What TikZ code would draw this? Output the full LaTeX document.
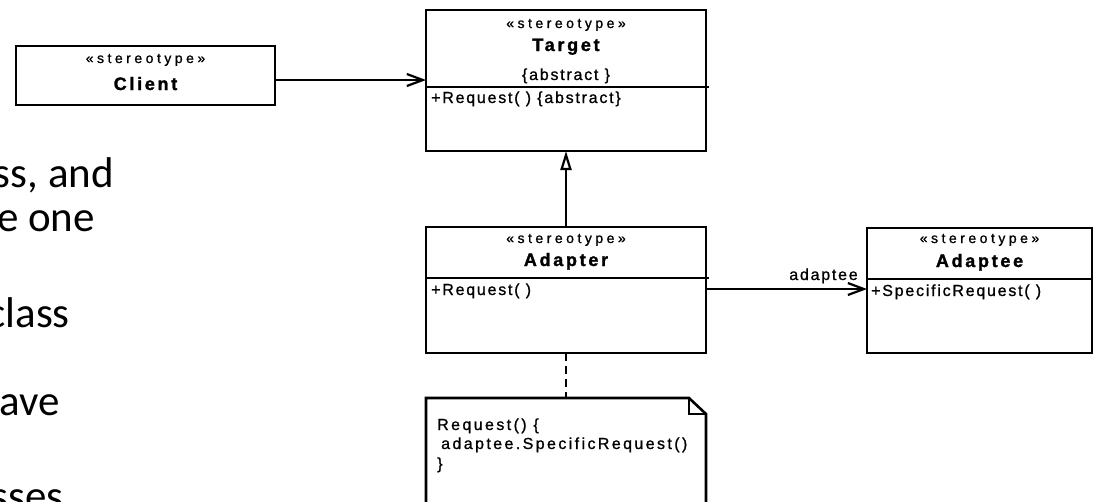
\documentclass[tikz,border=0pt]{standalone}
\usepackage{fontspec}
\setmainfont{Liberation Sans}
\newfontfamily\slidefont{Carlito}
\newfontfamily\umlfont{Liberation Sans}[LetterSpace=11, FakeBold=1]
\newfontfamily\notefont{Liberation Sans}[LetterSpace=15, FakeBold=1]
\newfontfamily\stfont{Liberation Sans}[LetterSpace=25, FakeBold=1]
\newfontfamily\umlbold{Liberation Sans}[LetterSpace=15, FakeBold=1.5]
\usetikzlibrary{arrows.meta}
\tikzset{
  umlbox/.style={draw, line width=2.6pt, rectangle, inner sep=0pt, outer sep=0pt, anchor=north west},
  notebox/.style={rectangle, inner sep=0pt, outer sep=0pt, anchor=north west},
  divider/.style={line width=2pt},
  st/.style={anchor=base, inner sep=0pt, font=\stfont\fontsize{14}{16}\selectfont},
  nm/.style={anchor=base, inner sep=0pt, font=\umlbold\bfseries\fontsize{18}{20}\selectfont},
  mem/.style={anchor=base west, inner sep=0pt, font=\umlfont\fontsize{16}{18}\selectfont},
  notetext/.style={anchor=base west, inner sep=0pt, font=\notefont\fontsize{16}{18}\selectfont},
  slide/.style={anchor=base east, inner sep=0pt, font=\slidefont\fontsize{43}{50}\selectfont},
  conn/.style={line width=2.6pt},
  openarrow/.style={-{Straight Barb[length=16pt,width=12pt,line width=2.2pt]}},
  genarrow/.style={-{Triangle[open,length=19pt,width=11pt,line width=2.2pt,fill=white]}}
}
\begin{document}
\begin{tikzpicture}[x=1pt,y=-1pt]
\useasboundingbox (0,0) rectangle (1095,501);
\clip (0,0) rectangle (1095,501);

% slide text fragments (cut off at the picture's edge, as in the reference)
\node[slide] (s1) at (114,187) {ss, and};
\node[slide] (s2) at (95,231) {e one};
\node[slide] (s3) at (70,327) {class};
\node[slide] (s4) at (60,415) {ave};
\node[slide] (s5) at (64,510) {sses};

% Client
\node[umlbox, minimum width=259pt, minimum height=59pt] (client) at (16,46) {};
\node[st] (clientst) at (145.5,63) {«stereotype»};
\node[nm] (clientnm) at (145.5,90) {Client};

% Target
\node[umlbox, minimum width=280pt, minimum height=141pt] (target) at (426,10) {};
\draw[divider] (target.west |- 0,87) -- ([xshift=3pt]target.east |- 0,87);
\node[st] (targetst) at (566,28) {«stereotype»};
\node[nm] (targetnm) at (566,51) {Target};
\node[mem, anchor=base] (targetab) at (566,80) {\{abstract \}};
\node[mem] (targetop) at (431,103) {+Request( ) \{abstract\}};

% Adapter
\node[umlbox, minimum width=280pt, minimum height=126pt] (adapter) at (426,227) {};
\draw[divider] (adapter.west |- 0,278) -- ([xshift=3pt]adapter.east |- 0,278);
\node[st] (adapterst) at (566,243) {«stereotype»};
\node[nm] (adapternm) at (566,266) {Adapter};
\node[mem] (adapterop) at (431,295) {+Request( )};

% Adaptee
\node[umlbox, minimum width=225pt, minimum height=125pt] (adaptee) at (867,228) {};
\draw[divider] (adaptee.west |- 0,279) -- (adaptee.east |- 0,279);
\node[st] (adapteest) at (979.5,243) {«stereotype»};
\node[nm] (adapteenm) at (979.5,267) {Adaptee};
\node[mem] (adapteeop) at (871,296) {+SpecificRequest( )};

% Note
\node[notebox, minimum width=280pt, minimum height=122pt] (note) at (426,398) {};
\draw[line width=2.6pt, line join=miter]
  (note.south west) -- (note.north west) -- ([xshift=-17pt]note.north east)
  -- ([yshift=-16pt]note.north east) -- (note.south east);
\draw[line width=2pt] ([xshift=-17pt]note.north east) -- ([xshift=-17pt,yshift=-16pt]note.north east)
  -- ([yshift=-16pt]note.north east);
\node[notetext] (note1) at (437,430) {Request() \{};
\node[notetext] (note2) at (441,449) {adaptee.SpecificRequest()};
\node[notetext] (note3) at (437,469) {\}};

% connectors
\draw[conn, openarrow] ([yshift=-4.5pt]client.east) -- ([yshift=-4.5pt]client.east -| target.west);
\draw[conn, genarrow] (adapter.north) -- (target.south);
\draw[conn, openarrow] ([yshift=1pt]adapter.east) -- ([yshift=1pt]adapter.east -| adaptee.west)
  node[mem, anchor=base east, pos=1, xshift=-8pt, yshift=9pt] (assoclabel) {adaptee};
\draw[conn, dashed, dash pattern=on 8pt off 5pt] (adapter.south) -- (note.north);
\end{tikzpicture}
\end{document}
